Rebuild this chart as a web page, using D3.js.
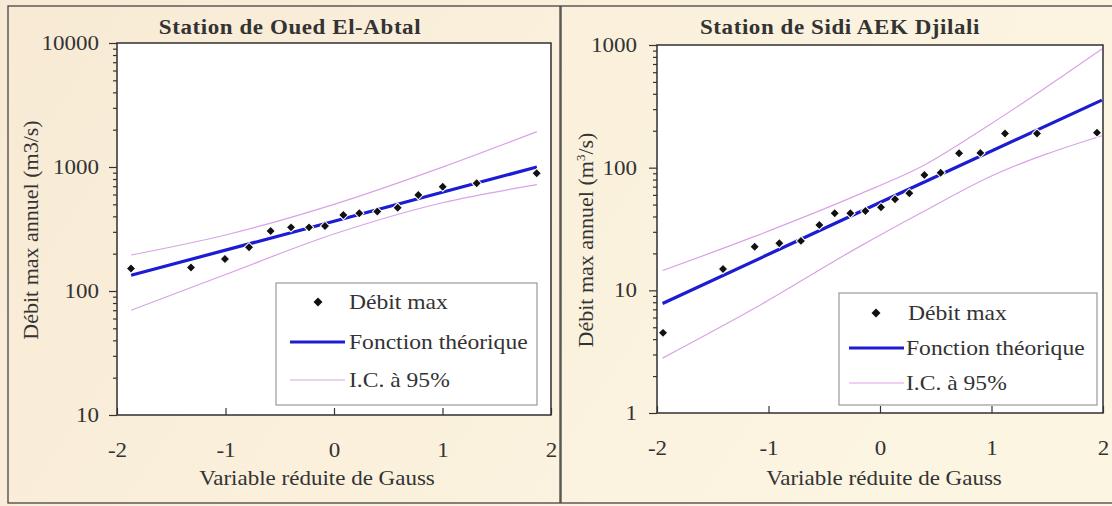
<!DOCTYPE html>
<html><head><meta charset="utf-8">
<script src="https://cdn.jsdelivr.net/npm/d3@7"></script>
<style>html,body{margin:0;padding:0;background:#fff;}svg{display:block;}
svg text{font-family:"Liberation Serif","DejaVu Serif","Noto Serif",serif;}</style>
</head><body>
<svg id="chart" width="1112" height="506"></svg>
<script>
// ---------- DATA ----------
const titles = ["Station de Oued El-Abtal", "Station de Sidi AEK Djilali"];
const xTicks = [-2, -1, 0, 1, 2];
const yTicksL = [10, 100, 1000, 10000];
const yTicksR = [1, 10, 100, 1000];
const legendLabels = ["Débit max", "Fonction théorique", "I.C. à 95%"];
const xTitle = "Variable réduite de Gauss";

// Left panel : Oued El-Abtal
const gaussL = [-1.871,-1.318,-1.005,-0.783,-0.584,-0.396,-0.230,-0.083,0.086,0.233,0.399,0.587,0.777,1.002,1.315,1.868];
const debitL = [152,155,181,225,305,326,326,334,410,424,437,470,594,693,739,889];
const theoXL = [-1.87, 0, 1.87];
const theoL  = [134, 365, 1000];
const ciXL   = [-1.87, -1, 0, 1, 1.87];
const ciUpL  = [195, 283, 500, 998, 1930];
const ciLoL  = [70, 136, 288, 515, 720];

// Right panel : Sidi AEK Djilali
const gaussR = [-1.946,-1.408,-1.124,-0.903,-0.709,-0.544,-0.406,-0.266,-0.131,0.009,0.135,0.263,0.398,0.544,0.709,0.900,1.121,1.408,1.946];
const debitR = [4.5,14.9,22.7,24.2,25.3,34.1,42.5,42.5,44.4,47.5,55.2,61.8,87.1,91,131,132,190,190,193];
const theoXR = [-1.95, 0, 1.99];
const theoR  = [7.8, 52, 355];
const ciXR   = [-1.95, -1.13, -0.2, 0.39, 0.99, 1.99];
const ciUpR  = [14.5, 27.4, 60, 104, 226, 930];
const ciLoR  = [2.8, 7.1, 22.3, 43.9, 84.6, 182];

// ---------- DRAW ----------
const FONT = '"Liberation Serif","DejaVu Serif","Noto Serif",serif';
const SX = 1.15;
const TXT = "#333";
const svg = d3.select("#chart");

const defs = svg.append("defs");
const grad = defs.append("linearGradient").attr("id","bg").attr("x1","0").attr("x2","1").attr("y1","0").attr("y2","0.3");
grad.append("stop").attr("offset","0").attr("stop-color","#f8ead5");
grad.append("stop").attr("offset","0.5").attr("stop-color","#faf0dc");
grad.append("stop").attr("offset","1").attr("stop-color","#fcf5e2");
svg.append("rect").attr("width",1112).attr("height",506).attr("fill","url(#bg)");

function stretch(sel, sx = SX) {
  sel.each(function() {
    const t = d3.select(this);
    const x = +t.attr("x") || 0, y = +t.attr("y") || 0;
    t.attr("x", null).attr("y", null)
     .attr("transform", `translate(${x},${y}) scale(${sx},1)`);
  });
}

function panel(cfg) {
  const g = svg.append("g");
  g.append("rect").attr("x",cfg.frame[0]).attr("y",cfg.frame[1])
    .attr("width",cfg.frame[2]).attr("height",cfg.frame[3])
    .attr("fill","none").attr("stroke","#444").attr("stroke-width",1.3);

  const x = d3.scaleLinear().domain([-2,2]).range([cfg.x0, cfg.x1]);
  const y = d3.scaleLog().domain(cfg.yDomain).range([cfg.y1, cfg.y0]);

  g.append("rect").attr("x",cfg.x0).attr("y",cfg.y0)
    .attr("width",cfg.x1-cfg.x0).attr("height",cfg.y1-cfg.y0).attr("fill","#fff");

  const clipId = "clip" + cfg.id;
  defs.append("clipPath").attr("id",clipId).append("rect")
    .attr("x",cfg.x0).attr("y",cfg.y0).attr("width",cfg.x1-cfg.x0).attr("height",cfg.y1-cfg.y0);
  const pg = g.append("g").attr("clip-path",`url(#${clipId})`);

  const ciLine = d3.line().x(d => x(d[0])).y(d => y(d[1])).curve(d3.curveMonotoneX);
  pg.append("path").datum(d3.zip(cfg.ciX, cfg.ciUp)).attr("d", ciLine)
    .attr("fill","none").attr("stroke","#d9a3e6").attr("stroke-width",1.2);
  pg.append("path").datum(d3.zip(cfg.ciX, cfg.ciLo)).attr("d", ciLine)
    .attr("fill","none").attr("stroke","#d9a3e6").attr("stroke-width",1.2);
  pg.append("path").datum(d3.zip(cfg.theoX, cfg.theo)).attr("d", d3.line().x(d => x(d[0])).y(d => y(d[1])))
    .attr("fill","none").attr("stroke","#1c1cd2").attr("stroke-width",3.2);

  const sym = d3.symbol(d3.symbolSquare, 44);
  g.append("g").selectAll("path").data(d3.zip(cfg.gx, cfg.gy)).join("path")
    .attr("d", sym).attr("transform", d => `translate(${x(d[0])},${y(d[1])}) rotate(45)`)
    .attr("fill","#111").attr("stroke","#fff").attr("stroke-width",1);

  g.append("rect").attr("x",cfg.x0).attr("y",cfg.y0)
    .attr("width",cfg.x1-cfg.x0).attr("height",cfg.y1-cfg.y0)
    .attr("fill","none").attr("stroke","#222").attr("stroke-width",1.4);

  const ya = g.append("g").attr("transform",`translate(${cfg.x0},0)`)
    .call(d3.axisLeft(y).tickValues(cfg.yTicks).tickSize(8).tickSizeOuter(0).tickPadding(cfg.yPad).tickFormat(d3.format("d")));
  const minor = [];
  cfg.yTicks.slice(0,-1).forEach(dec => { for (let k = 2; k <= 9; k++) minor.push(dec*k); });
  const ym = g.append("g").attr("transform",`translate(${cfg.x0},0)`)
    .call(d3.axisLeft(y).tickValues(minor).tickSize(4).tickSizeOuter(0).tickFormat(""));
  const xa = g.append("g").attr("transform",`translate(0,${cfg.y1})`)
    .call(d3.axisBottom(x).tickValues(xTicks).tickSizeInner(-7).tickSizeOuter(0).tickPadding(28).tickFormat(d => String(d)));
  [ya, ym, xa].forEach(a => {
    a.select(".domain").remove();
    a.selectAll("line").attr("stroke","#333").attr("stroke-width",1.2);
    a.selectAll("text").attr("font-family",FONT).attr("font-size",20).attr("fill",TXT);
  });
  stretch(ya.selectAll("text"));
  stretch(xa.selectAll("text"));

  const t = g.append("text").attr("x",cfg.titleX).attr("y",34).attr("text-anchor","middle")
    .attr("font-family",FONT).attr("font-size",20).attr("font-weight","bold")
    .attr("letter-spacing",0.5).attr("fill",TXT).text(cfg.title);
  stretch(t);

  const xt = g.append("text").attr("x",cfg.xTitleX).attr("y",485).attr("text-anchor","middle")
    .attr("font-family",FONT).attr("font-size",20).attr("fill",TXT).text(xTitle);
  stretch(xt);

  const yt = g.append("text").attr("transform",`translate(${cfg.yTitleX},${cfg.yTitleY}) rotate(-90)`)
    .attr("text-anchor","middle").attr("font-family",FONT).attr("font-size",22).attr("fill",TXT);
  if (cfg.sup) {
    yt.append("tspan").text("Débit max annuel (m");
    yt.append("tspan").attr("dy",-8).attr("font-size",13).text("3");
    yt.append("tspan").attr("dy",8).text("/s)");
  } else {
    yt.text("Débit max annuel (m3/s)");
  }

  const L = cfg.legend;
  const lg = g.append("g");
  lg.append("rect").attr("x",L.x).attr("y",L.y).attr("width",L.w).attr("height",L.h)
    .attr("fill","#fff").attr("stroke","#999").attr("stroke-width",1.2);
  lg.append("path").attr("d",d3.symbol(d3.symbolSquare,40)())
    .attr("transform",`translate(${L.mx},${L.rows[0]}) rotate(45)`).attr("fill","#111");
  lg.append("line").attr("x1",L.l0).attr("x2",L.l1).attr("y1",L.rows[1]).attr("y2",L.rows[1])
    .attr("stroke","#1c1cd2").attr("stroke-width",3.2);
  lg.append("line").attr("x1",L.l0).attr("x2",L.l1).attr("y1",L.rows[2]).attr("y2",L.rows[2])
    .attr("stroke","#d9a3e6").attr("stroke-width",1.2);
  legendLabels.forEach((s,i) => {
    const tx = lg.append("text").attr("x", i===0 ? L.t0 : L.t1).attr("y", L.rows[i]+7)
      .attr("font-family",FONT).attr("font-size",20.5).attr("fill",TXT).text(s);
    stretch(tx);
  });
}

panel({
  id:"L", frame:[8,6,552,497], x0:117, x1:551, y0:43, y1:415, yDomain:[10,10000],
  yTicks:yTicksL, yPad:10, title:titles[0], titleX:290, xTitleX:317, yTitleX:38, yTitleY:230,
  gx:gaussL, gy:debitL, theoX:theoXL, theo:theoL, ciX:ciXL, ciUp:ciUpL, ciLo:ciLoL, sup:false,
  legend:{x:276,y:283,w:261,h:122,rows:[302,342,380],mx:318,l0:290,l1:345,t0:349,t1:349}
});
panel({
  id:"R", frame:[561,6,560,497], x0:657, x1:1103, y0:45, y1:413, yDomain:[1,1000],
  yTicks:yTicksR, yPad:12, title:titles[1], titleX:840, xTitleX:884, yTitleX:593, yTitleY:240,
  gx:gaussR, gy:debitR, theoX:theoXR, theo:theoR, ciX:ciXR, ciUp:ciUpR, ciLo:ciLoR, sup:true,
  legend:{x:839,y:293,w:258,h:112,rows:[313,348,383],mx:876,l0:849,l1:904,t0:908,t1:906}
});
</script>
</body></html>
